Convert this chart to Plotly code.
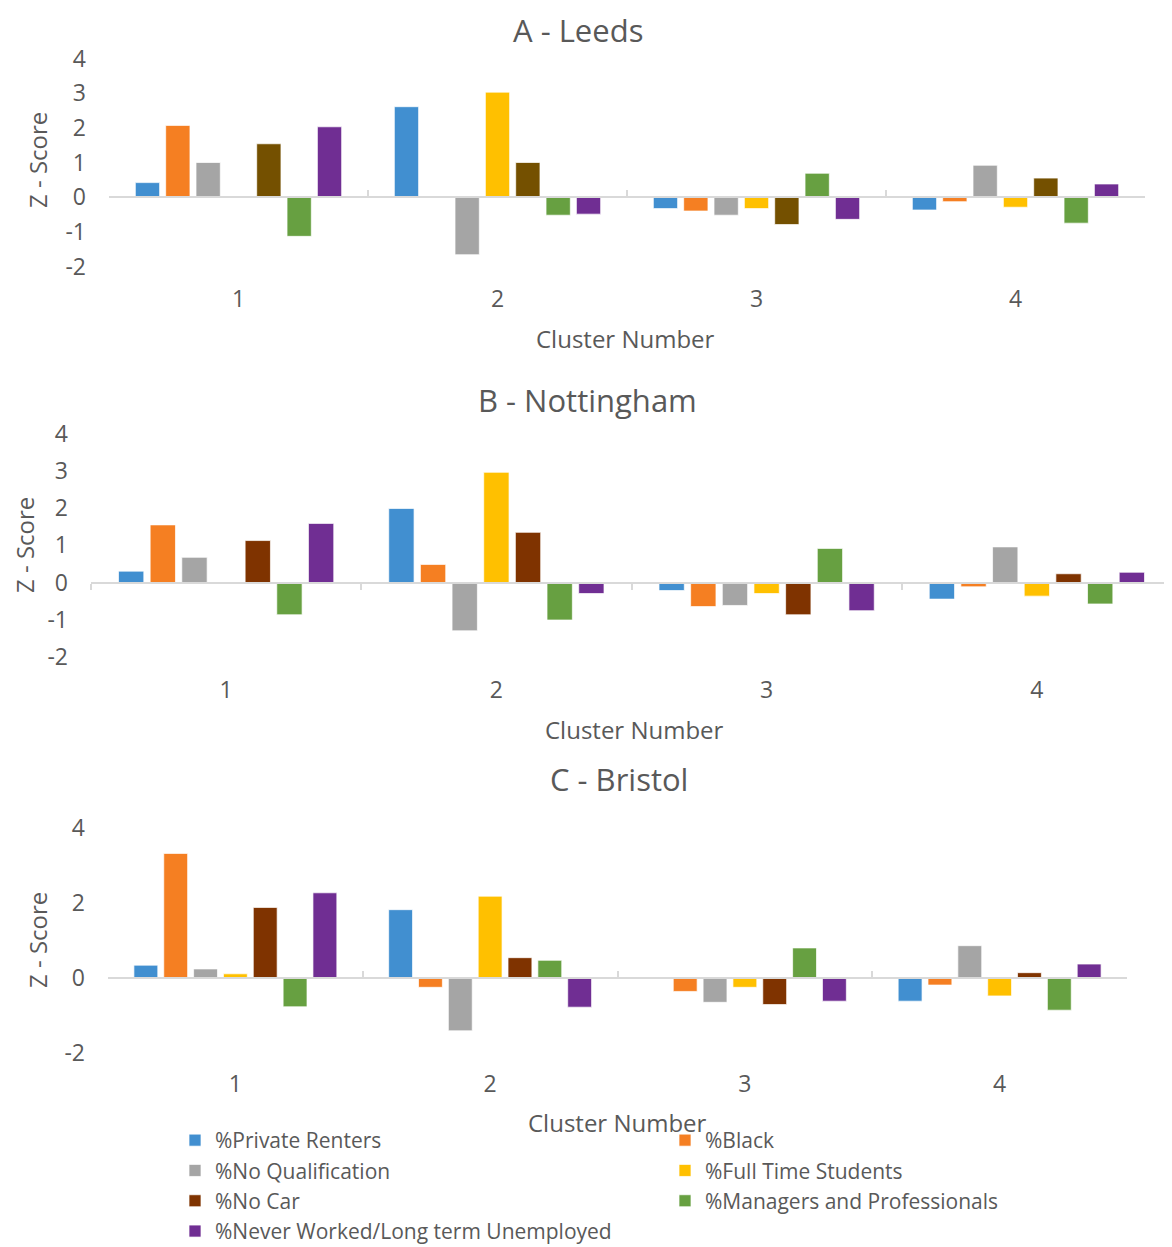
import plotly.graph_objects as go

CLUSTERS = ["1", "2", "3", "4"]
SERIES = ["%Private Renters", "%Black", "%No Qualification", "%Full Time Students",
          "%No Car", "%Managers and Professionals", "%Never Worked/Long term Unemployed"]

# Leeds z-scores per cluster
LEEDS_PRIVATE_RENTERS = [0.42, 2.61, -0.33, -0.37]
LEEDS_BLACK = [2.07, 0.0, -0.40, -0.13]
LEEDS_NO_QUALIFICATION = [1.00, -1.66, -0.52, 0.92]
LEEDS_FULL_TIME_STUDENTS = [0.0, 3.03, -0.33, -0.29]
LEEDS_NO_CAR = [1.54, 1.00, -0.79, 0.55]
LEEDS_MANAGERS = [-1.13, -0.52, 0.69, -0.75]
LEEDS_NEVER_WORKED = [2.03, -0.49, -0.64, 0.38]

# Nottingham
NOTT_PRIVATE_RENTERS = [0.31, 1.99, -0.21, -0.44]
NOTT_BLACK = [1.55, 0.49, -0.64, -0.11]
NOTT_NO_QUALIFICATION = [0.68, -1.29, -0.61, 0.96]
NOTT_FULL_TIME_STUDENTS = [0.0, 2.96, -0.29, -0.36]
NOTT_NO_CAR = [1.13, 1.35, -0.86, 0.24]
NOTT_MANAGERS = [-0.86, -1.00, 0.92, -0.57]
NOTT_NEVER_WORKED = [1.59, -0.29, -0.75, 0.28]

# Bristol
BRIS_PRIVATE_RENTERS = [0.35, 1.83, 0.0, -0.61]
BRIS_BLACK = [3.33, -0.24, -0.35, -0.18]
BRIS_NO_QUALIFICATION = [0.25, -1.40, -0.64, 0.87]
BRIS_FULL_TIME_STUDENTS = [0.12, 2.19, -0.24, -0.47]
BRIS_NO_CAR = [1.89, 0.55, -0.70, 0.15]
BRIS_MANAGERS = [-0.76, 0.48, 0.81, -0.85]
BRIS_NEVER_WORKED = [2.28, -0.77, -0.61, 0.38]

YTICKS_AB = [-2, -1, 0, 1, 2, 3, 4]
YTICKS_C = [-2, 0, 2, 4]

TITLES = ["A - Leeds", "B - Nottingham", "C - Bristol"]

COLORS_A = ["#418FD0", "#F57F22", "#A5A5A5", "#FFC000", "#745000", "#67A041", "#702E93"]
COLORS_BC = ["#418FD0", "#F57F22", "#A5A5A5", "#FFC000", "#7F3300", "#67A041", "#702E93"]

TXT = "#595959"
FONT = "Open Sans"
OFF = 8                      # page body margin offset
W, H = 1172 - OFF, 1247 - OFF


def px(xs):
    return (xs - OFF) / W


def py(ys):
    return 1 - (ys - OFF) / H


panels = [
    dict(data=[LEEDS_PRIVATE_RENTERS, LEEDS_BLACK, LEEDS_NO_QUALIFICATION, LEEDS_FULL_TIME_STUDENTS,
               LEEDS_NO_CAR, LEEDS_MANAGERS, LEEDS_NEVER_WORKED],
         colors=COLORS_A, xdom=(109, 1145), ytop=58.5, ybot=266.5, yticks=YTICKS_AB,
         ticks="inside", standoff=81, title_xy=(578, 30), xt_xy=(625, 338), yt_xy=(38, 160)),
    dict(data=[NOTT_PRIVATE_RENTERS, NOTT_BLACK, NOTT_NO_QUALIFICATION, NOTT_FULL_TIME_STUDENTS,
               NOTT_NO_CAR, NOTT_MANAGERS, NOTT_NEVER_WORKED],
         colors=COLORS_BC, xdom=(91, 1172), ytop=433.5, ybot=657.3, yticks=YTICKS_AB,
         ticks="outside", standoff=87, title_xy=(587, 400), xt_xy=(634, 729), yt_xy=(24, 545)),
    dict(data=[BRIS_PRIVATE_RENTERS, BRIS_BLACK, BRIS_NO_QUALIFICATION, BRIS_FULL_TIME_STUDENTS,
               BRIS_NO_CAR, BRIS_MANAGERS, BRIS_NEVER_WORKED],
         colors=COLORS_BC, xdom=(108, 1127), ytop=828.3, ybot=1053.3, yticks=YTICKS_C,
         ticks="inside", standoff=85, title_xy=(619, 779), xt_xy=(617, 1122), yt_xy=(37, 940)),
]

fig = go.Figure()
annotations = []
legend_col2 = {1, 3, 5}

for i, p in enumerate(panels):
    sfx = "" if i == 0 else str(i + 1)
    for j, name in enumerate(SERIES):
        fig.add_trace(go.Bar(
            x=CLUSTERS, y=p["data"][j], name=name,
            marker=dict(color=p["colors"][j], line=dict(color="rgba(255,255,255,0.7)", width=1)),
            xaxis="x" + sfx, yaxis="y" + sfx,
            showlegend=(i == 2),
            legend=("legend2" if j in legend_col2 else "legend"),
        ))
    y0 = py(p["ybot"])
    y1 = py(p["ytop"])
    ymin, ymax = -2, 4
    zero_pos = y0 + (0 - ymin) / (ymax - ymin) * (y1 - y0)
    fig.update_layout(**{
        "xaxis" + sfx: dict(
            domain=[px(p["xdom"][0]), min(px(p["xdom"][1]), 1.0)],
            anchor="free", position=zero_pos, type="category",
            categoryorder="array", categoryarray=CLUSTERS,
            showline=True, linecolor="#D9D9D9", linewidth=2,
            ticks=p["ticks"], tickson="boundaries", ticklen=6, tickwidth=2, tickcolor="#D9D9D9",
            showgrid=False, zeroline=False,
            ticklabelstandoff=p["standoff"],
            tickfont=dict(family=FONT, size=23, color=TXT),
        ),
        "yaxis" + sfx: dict(
            domain=[y0, y1], anchor="x" + sfx, range=[ymin, ymax],
            tickvals=p["yticks"], ticktext=[str(v) for v in p["yticks"]],
            showgrid=False, zeroline=False, showline=False, ticks="",
            ticklabelstandoff=22,
            tickfont=dict(family=FONT, size=23, color=TXT),
        ),
    })
    annotations.append(dict(text=TITLES[i], x=px(p["title_xy"][0]), y=py(p["title_xy"][1]),
                            xref="paper", yref="paper", showarrow=False, xanchor="center", yanchor="middle",
                            font=dict(family=FONT, size=31, color=TXT)))
    annotations.append(dict(text="Cluster Number", x=px(p["xt_xy"][0]), y=py(p["xt_xy"][1]),
                            xref="paper", yref="paper", showarrow=False, xanchor="center", yanchor="middle",
                            font=dict(family=FONT, size=24, color=TXT)))
    annotations.append(dict(text="Z - Score", x=px(p["yt_xy"][0]), y=py(p["yt_xy"][1]),
                            xref="paper", yref="paper", showarrow=False, xanchor="center", yanchor="middle",
                            textangle=-90, font=dict(family=FONT, size=24, color=TXT)))

legend_common = dict(orientation="v", yanchor="top", xanchor="left",
                     font=dict(family=FONT, size=21, color=TXT), bgcolor="rgba(0,0,0,0)",
                     tracegroupgap=0, itemwidth=30)
fig.update_layout(
    width=W, height=H,
    margin=dict(l=0, r=0, t=0, b=0, autoexpand=False),
    paper_bgcolor="white", plot_bgcolor="white",
    barmode="group", bargap=0.18, bargroupgap=0.2,
    annotations=annotations,
    legend=dict(x=px(175), y=py(1120), **legend_common),
    legend2=dict(x=px(665), y=py(1120), **legend_common),
    font=dict(family=FONT, color=TXT),
)

fig.write_html("out.html")
